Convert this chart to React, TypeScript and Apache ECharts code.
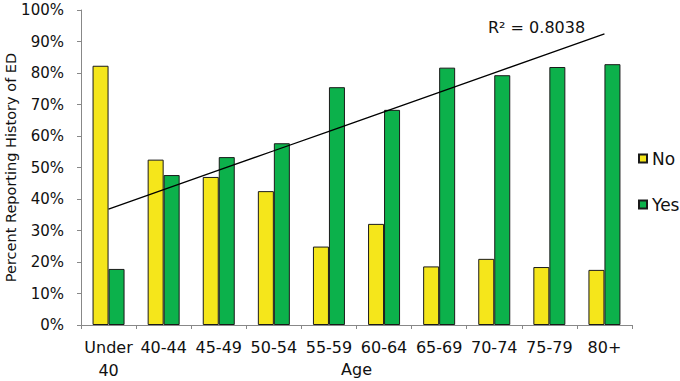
import React, { useEffect, useRef } from "react";
import * as echarts from "echarts";

const categories = ["Under 40", "40-44", "45-49", "50-54", "55-59", "60-64", "65-69", "70-74", "75-79", "80+"];
const noValues = [82.3, 52.5, 47.0, 42.5, 24.9, 32.1, 18.6, 21.0, 18.4, 17.5];
const yesValues = [17.8, 47.6, 53.3, 57.7, 75.5, 68.3, 81.7, 79.3, 81.9, 82.8];
const yTicks = [0, 10, 20, 30, 40, 50, 60, 70, 80, 90, 100];
const rSquaredLabel = "R\u00B2 = 0.8038";

function linearFit(values: number[]): number[] {
  const n = values.length;
  const xs = values.map((_, i) => i + 1);
  const mx = xs.reduce((a, b) => a + b, 0) / n;
  const my = values.reduce((a, b) => a + b, 0) / n;
  let sxy = 0;
  let sxx = 0;
  for (let i = 0; i < n; i++) {
    sxy += (xs[i] - mx) * (values[i] - my);
    sxx += (xs[i] - mx) * (xs[i] - mx);
  }
  const slope = sxy / sxx;
  const intercept = my - slope * mx;
  return xs.map((x) => +(intercept + slope * x).toFixed(3));
}

const FONT = "DejaVu Sans";

export default function App() {
  const ref = useRef<HTMLDivElement>(null);
  useEffect(() => {
    if (!ref.current) return;
    const chart = echarts.init(ref.current, null, { renderer: "svg" });
    const trend = linearFit(yesValues);
    chart.setOption({
      animation: false,
      backgroundColor: "#ffffff",
      grid: { left: 81, right: 48, top: 10, bottom: 56, containLabel: false, outerBoundsMode: "none" },
      legend: {
        orient: "vertical",
        left: 638,
        top: 150,
        padding: 0,
        itemWidth: 8,
        itemHeight: 8,
        itemGap: 29,
        icon: "rect",
        textStyle: { fontFamily: FONT, fontSize: 17, color: "#111" },
        data: ["No", "Yes"],
      },
      xAxis: {
        type: "category",
        data: categories,
        name: "Age",
        nameLocation: "middle",
        nameGap: 36,
        nameMoveOverlap: false,
        nameTextStyle: { fontFamily: FONT, fontSize: 16, color: "#111" },
        axisLine: { lineStyle: { color: "#888888", width: 1 } },
        axisTick: { show: true, length: 4, lineStyle: { color: "#888888" } },
        axisLabel: {
          interval: 0,
          margin: 11,
          fontFamily: FONT,
          fontSize: 16,
          lineHeight: 23,
          color: "#111",
          formatter: (v: string) => v.replace(" ", "\n"),
        },
      },
      yAxis: {
        type: "value",
        min: yTicks[0],
        max: yTicks[yTicks.length - 1],
        interval: 10,
        name: "Percent Reporting History of ED",
        nameLocation: "middle",
        nameGap: 63,
        nameMoveOverlap: false,
        nameTextStyle: { fontFamily: FONT, fontSize: 14.5, color: "#111" },
        axisLine: { show: true, lineStyle: { color: "#888888", width: 1 } },
        axisTick: { show: true, length: 4, lineStyle: { color: "#888888" } },
        splitLine: { show: false },
        axisLabel: {
          margin: 17,
          fontFamily: FONT,
          fontSize: 15,
          color: "#111",
          formatter: "{value}%",
        },
      },
      series: [
        {
          name: "No",
          type: "bar",
          data: noValues,
          barWidth: 16,
          barGap: "0%",
          itemStyle: { color: "#F5E61B", borderColor: "#1a1a1a", borderWidth: 1 },
        },
        {
          name: "Yes",
          type: "bar",
          data: yesValues,
          barWidth: 16,
          itemStyle: { color: "#0CB14B", borderColor: "#1a1a1a", borderWidth: 1 },
        },
        {
          name: "Trend",
          type: "line",
          data: trend,
          symbol: "none",
          z: 5,
          lineStyle: { color: "#000000", width: 1.3 },
          itemStyle: { color: "#000000" },
        },
      ],
      graphic: [
        {
          type: "text",
          left: 488,
          top: 19,
          style: { text: rSquaredLabel, font: `16px "${FONT}"`, fill: "#111" },
        },
      ],
    });
    return () => chart.dispose();
  }, []);
  return (
    <div
      ref={ref}
      style={{ position: "absolute", left: 0, top: 0, width: 680, height: 381 }}
    />
  );
}
